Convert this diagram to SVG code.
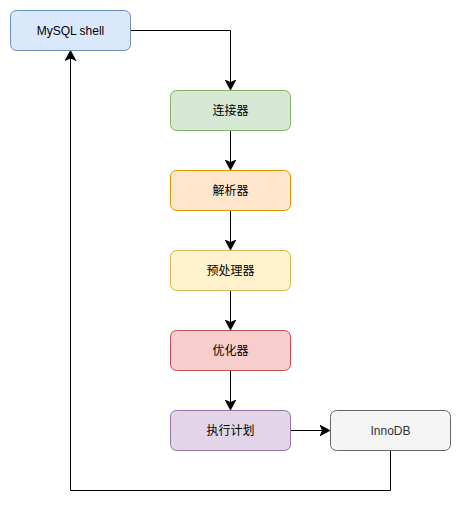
<svg xmlns="http://www.w3.org/2000/svg" width="461" height="509" viewBox="0 0 461 509">
<style>
.n rect{stroke-width:1}
.n text{font-family:"Liberation Sans","Noto Sans CJK SC",Arial,sans-serif;font-size:12px;fill:#000;text-anchor:middle;dominant-baseline:central}
.e{fill:none;stroke:#000;stroke-width:1}
</style>
<defs>
<marker id="arr" markerUnits="userSpaceOnUse" markerWidth="12" markerHeight="12" viewBox="-8 -5 10 10" refX="0" refY="0" orient="auto">
<path d="M0,0 L-7.5,-4 L-5.6,0 L-7.5,4 Z" fill="#000" stroke="#000" stroke-width="1"/>
</marker>
</defs>
<rect width="461" height="509" fill="#fff"/>
<g id="connectors">
<path class="e" d="M130.5,30.5 H230.5 V89.5" marker-end="url(#arr)"/>
<path class="e" d="M230.5,130.5 V169.5" marker-end="url(#arr)"/>
<path class="e" d="M230.5,210.5 V249.5" marker-end="url(#arr)"/>
<path class="e" d="M230.5,290.5 V329.5" marker-end="url(#arr)"/>
<path class="e" d="M230.5,370.5 V409.5" marker-end="url(#arr)"/>
<path class="e" d="M290.5,430.5 H329.5" marker-end="url(#arr)"/>
<path class="e" d="M390.5,450.5 V490.5 H70.5 V51" marker-end="url(#arr)"/>
</g>
<g id="mysql" class="n"><rect x="10.5" y="10.5" width="120" height="40" rx="6" fill="#dae8fc" stroke="#6c8ebf"/><text x="70.5" y="30.5">MySQL shell</text></g>
<g id="connector" class="n"><rect x="170.5" y="90.5" width="120" height="40" rx="6" fill="#d5e8d4" stroke="#82b366"/><text x="230.5" y="110.5">连接器</text></g>
<g id="parser" class="n"><rect x="170.5" y="170.5" width="120" height="40" rx="6" fill="#ffe6cc" stroke="#d79b00"/><text x="230.5" y="190.5">解析器</text></g>
<g id="preprocessor" class="n"><rect x="170.5" y="250.5" width="120" height="40" rx="6" fill="#fff2cc" stroke="#d6b656"/><text x="230.5" y="270.5">预处理器</text></g>
<g id="optimizer" class="n"><rect x="170.5" y="330.5" width="120" height="40" rx="6" fill="#f8cecc" stroke="#b85450"/><text x="230.5" y="350.5">优化器</text></g>
<g id="executor" class="n"><rect x="170.5" y="410.5" width="120" height="40" rx="6" fill="#e1d5e7" stroke="#9673a6"/><text x="230.5" y="430.5">执行计划</text></g>
<g id="innodb" class="n"><rect x="330.5" y="410.5" width="120" height="40" rx="6" fill="#f5f5f5" stroke="#666666"/><text x="390.5" y="430.5" style="fill:#333333">InnoDB</text></g>
</svg>
